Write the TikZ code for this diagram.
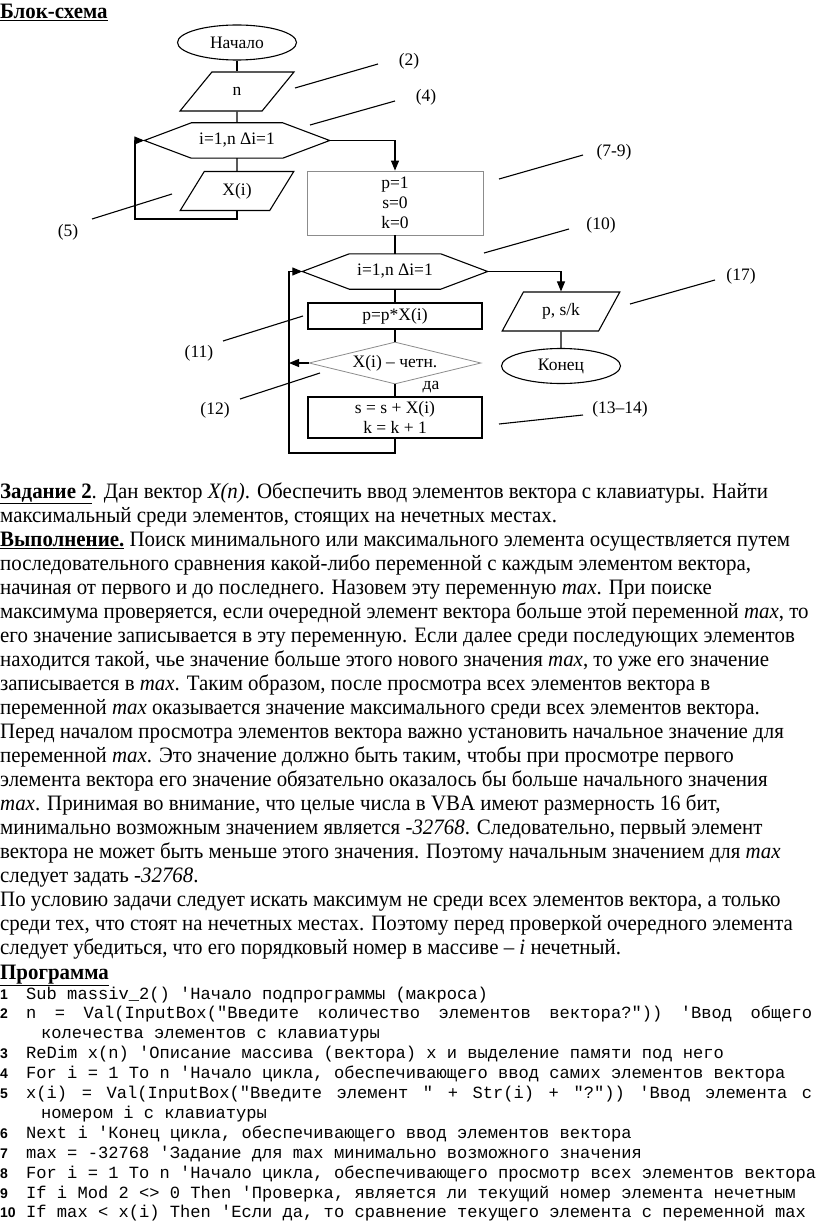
\documentclass[tikz,border=0pt]{standalone}
\usepackage{fontspec}
\setmainfont{Liberation Serif}
\setmonofont{Liberation Mono}
\newfontfamily\bodyfont{Liberation Serif}[FakeStretch=0.95]
\newfontfamily\numfont{Liberation Sans}
\usetikzlibrary{shapes.geometric, arrows.meta, positioning, calc}

\tikzset{
    chart/.style={font=\fontsize{17.5}{20}\selectfont},
    terminal/.style={chart, draw, ellipse, minimum width=119pt, minimum height=35pt, inner sep=0pt, line width=1.1pt},
    io/.style={chart, draw, trapezium, trapezium stretches=true, trapezium left angle=56, trapezium right angle=124, minimum width=114pt, minimum height=39pt, inner sep=0pt, line width=1.1pt},
    loopbox/.style={chart, minimum width=185pt, minimum height=35pt, inner sep=0pt},
    process/.style={chart, draw, rectangle, minimum width=174pt, inner sep=1pt, align=center, line width=1.1pt},
    decision/.style={chart, draw=black!45, diamond, aspect=4.1, minimum width=172pt, minimum height=42pt, inner sep=0pt, line width=0.8pt},
    flow/.style={line width=1.1pt},
    arr/.style={flow, -{Triangle[length=10pt,width=8pt]}},
    txt/.style={anchor=base west, inner sep=0pt, font={\bodyfont\fontsize{22}{24}\selectfont}},
    code/.style={anchor=base west, inner sep=0pt, font={\ttfamily\fontsize{17.1}{20}\selectfont}},
    lineno/.style={anchor=base west, inner sep=0pt, font={\numfont\bfseries\fontsize{14}{16}\selectfont}}
}

\begin{document}
\begin{tikzpicture}[x=1pt, y=-1pt]
    \clip (0,0) rectangle (816,1225);
    \fill[white] (0,0) rectangle (816,1225);

    % Heading
    \node[txt] (head) at (0,19) {\underline{\textbf{Блок-схема}}};

    % Input loop
    \node[terminal] (start) at (237,42.5) {Начало};
    \node[io] (inN) at (237,91.5) {n};
    \node[loopbox] (hexA) at (237,140.5) {i=1,n Δi=1};
    \node[io] (inX) at (237,191) {X(i)};

    % Main loop
    \node[process, draw=black!45, line width=0.8pt, minimum width=176pt, minimum height=64pt] (init) at (395,203) {p=1\\s=0\\k=0};
    \node[loopbox] (hexB) at (395,271.5) {i=1,n Δi=1};
    \node[process, minimum height=26pt] (mul) at (395,316) {p=p*X(i)};
    \node[decision] (chk) at (395,363) {X(i) – четн.};
    \node[chart, anchor=center] (yes) at (431,387) {да};
    \node[process, minimum height=41pt] (sum) at (395,417.5) {s = s + X(i)\\k = k + 1};

    % Output
    \node[io, minimum width=118pt] (outP) at (561,311.5) {p, s/k};
    \node[terminal] (stop) at (561,366) {Конец};

    % Loop shapes
    \foreach \h in {hexA,hexB}
        \draw[flow] (\h.west) -- ([xshift=47pt]\h.north west) -- ([xshift=-47pt]\h.north east)
            -- (\h.east) -- ([xshift=-47pt]\h.south east) -- ([xshift=47pt]\h.south west) -- cycle;

    % Connectors
    \coordinate (loopA) at (135,219);
    \coordinate (loopB) at (289,453);
    \draw[flow] (start) -- (inN);
    \draw[flow] (inN) -- (hexA);
    \draw[flow] (hexA) -- (inX);
    \draw[arr] (inX) |- (loopA) |- (hexA.west);
    \draw[arr] (hexA.east) -| (init);
    \draw[flow] (init) -- (hexB);
    \draw[flow] (hexB) -- (mul);
    \draw[flow] (mul) -- (chk);
    \draw[flow] (chk) -- (sum);
    \draw[arr] (sum) |- (loopB) |- (hexB.west);
    \draw[arr] (chk.west) -- (chk.west -| loopB);
    \draw[arr] (hexB.east) -| (outP);
    \draw[flow] (outP) -- (stop);

    % Step numbers
    \foreach \t/\lx/\ly/\ax/\ay/\bx/\by in {
        (2)/409/61/295/88/378/64,
        (4)/426/97/310/125/395/101,
        (5)/68/232/92/219/172/194,
        (7-9)/614/152/499/179/583/155,
        (10)/601/225/484/253/569/229,
        (17)/741/276/630/304/715/280,
        (11)/199/353/223/341/303/316,
        (12)/215/410/240/399/320/373,
        (13–14)/620/409/499/424/583/415} {
        \node[chart] at (\lx,\ly) {\t};
        \draw[flow] (\ax,\ay) -- (\bx,\by);
    }

    % Task text
    \foreach \t [count=\i from 0] in {
        {\underline{\textbf{Задание 2}}. Дан вектор \textit{X(n)}. Обеспечить ввод элементов вектора с клавиатуры. Найти},
        {максимальный среди элементов, стоящих на нечетных местах.},
        {\underline{\textbf{Выполнение.}} Поиск минимального или максимального элемента осуществляется путем},
        {последовательного сравнения какой-либо переменной с каждым элементом вектора,},
        {начиная от первого и до последнего. Назовем эту переменную \textit{max}. При поиске},
        {максимума проверяется, если очередной элемент вектора больше этой переменной \textit{max}, то},
        {его значение записывается в эту переменную. Если далее среди последующих элементов},
        {находится такой, чье значение больше этого нового значения \textit{max}, то уже его значение},
        {записывается в \textit{max}. Таким образом, после просмотра всех элементов вектора в},
        {переменной \textit{max} оказывается значение максимального среди всех элементов вектора.},
        {Перед началом просмотра элементов вектора важно установить начальное значение для},
        {переменной \textit{max}. Это значение должно быть таким, чтобы при просмотре первого},
        {элемента вектора его значение обязательно оказалось бы больше начального значения},
        {\textit{max}. Принимая во внимание, что целые числа в VBA имеют размерность 16 бит,},
        {минимально возможным значением является \textit{-32768}. Следовательно, первый элемент},
        {вектора не может быть меньше этого значения. Поэтому начальным значением для \textit{max}},
        {следует задать \textit{-32768}.},
        {По условию задачи следует искать максимум не среди всех элементов вектора, а только},
        {среди тех, что стоят на нечетных местах. Поэтому перед проверкой очередного элемента},
        {следует убедиться, что его порядковый номер в массиве – \textit{i} нечетный.},
        {\underline{\textbf{Программа}}}}
        \node[txt] at (0,{498+24.05*\i}) {\t};

    % Program
    \foreach \n/\y in {1/999,2/1018.9,3/1058.7,4/1078.6,5/1098.5,6/1138.3,7/1158.2,8/1178.1,9/1198,10/1217.9}
        \node[lineno] at (0,\y) {\n};
    \node[code] at (26,999) {Sub massiv\_2() 'Начало подпрограммы (макроса)};
    \node[code] at (26,1018.9) {\makebox[786pt][l]{n\hfill=\hfill Val(InputBox("Введите\hfill количество\hfill элементов\hfill вектора?"))\hfill 'Ввод\hfill общего}};
    \node[code] at (41,1038.8) {колечества элементов с клавиатуры};
    \node[code] at (26,1058.7) {ReDim x(n) 'Описание массива (вектора) x и выделение памяти под него};
    \node[code] at (26,1078.6) {For i = 1 To n 'Начало цикла, обеспечивающего ввод самих элементов вектора};
    \node[code] at (26,1098.5) {\makebox[786pt][l]{x(i)\hfill=\hfill Val(InputBox("Введите\hfill элемент\hfill "\hfill +\hfill Str(i)\hfill +\hfill "?"))\hfill 'Ввод\hfill элемента\hfill с}};
    \node[code] at (41,1118.4) {номером i с клавиатуры};
    \node[code] at (26,1138.3) {Next i 'Конец цикла, обеспечивающего ввод элементов вектора};
    \node[code] at (26,1158.2) {max = -32768 'Задание для max минимально возможного значения};
    \node[code] at (26,1178.1) {For i = 1 To n 'Начало цикла, обеспечивающего просмотр всех элементов вектора};
    \node[code] at (26,1198) {If i Mod 2 <> 0 Then 'Проверка, является ли текущий номер элемента нечетным};
    \node[code] at (26,1217.9) {If max < x(i) Then 'Если да, то сравнение текущего элемента с переменной max};
\end{tikzpicture}
\end{document}
